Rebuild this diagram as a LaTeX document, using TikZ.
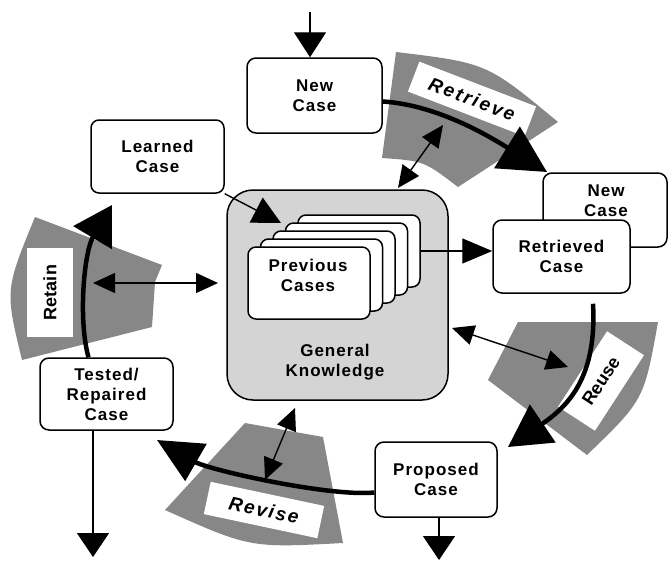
\documentclass[tikz,border=0pt]{standalone}
\usepackage{fontspec}
\setmainfont{Liberation Sans}
\newfontfamily\cbrboxfam[LetterSpace=6]{Liberation Sans}
\newfontfamily\cbrlabA[LetterSpace=12]{Liberation Sans}
\newfontfamily\cbrlabB[LetterSpace=10]{Liberation Sans}
\newfontfamily\cbrlabC{Liberation Sans}
\usetikzlibrary{arrows.meta,calc}
\definecolor{sectgray}{RGB}{135,135,135}
\definecolor{gkgray}{RGB}{212,212,212}
\newcommand\cbrboxfont{\cbrboxfam\bfseries\fontsize{17}{20}\selectfont}
\begin{document}
\begin{tikzpicture}[x=1pt,y=-1pt,
  box/.style={draw, line width=1.5pt, rounded corners=9pt, fill=white, align=center, font=\cbrboxfont, inner sep=0pt},
  boxtext/.style={align=center, font=\cbrboxfont, inner sep=0pt},
  lab/.style={fill=white, inner sep=0pt, align=center},
  thinline/.style={line width=1.4pt},
  cycarrow/.style={line width=4.5pt},
  sect/.style={fill=sectgray},
  bihead/.style={{Triangle[length=22pt,width=20pt]}-{Triangle[length=22pt,width=20pt]}},
]
\useasboundingbox (0,0) rectangle (672,562);

% grey sectors
\fill[sect] (396,52) .. controls (487,63) .. (558,122) -- (458,187) .. controls (424,161) .. (382,158) -- cycle;
\fill[sect] (35,217) -- (162,265) -- (155,282) -- (152,327) -- (22,360) .. controls (5,290) .. (35,217) -- cycle;
\fill[sect] (518,322) -- (658,322) .. controls (644,400) .. (587,455) -- (488,380) -- cycle;
\fill[sect] (245,423) -- (323,437) -- (343,543) .. controls (250,548) .. (165,510) -- cycle;

% white labels
\node[lab, rotate=-21, minimum width=125pt, minimum height=32pt, font=\cbrlabA\bfseries\itshape\fontsize{19}{22}\selectfont] (retrievelab) at (472,99) {Retrieve};
\node[lab, rotate=57, minimum width=90pt, minimum height=44pt, font=\cbrlabC\bfseries\fontsize{18}{21}\selectfont] (reuselab) at (601,381) {Reuse};
\node[lab, rotate=-12, minimum width=116pt, minimum height=33pt, font=\cbrlabB\bfseries\itshape\fontsize{19}{22}\selectfont] (reviselab) at (264,510) {Revise};
\node[lab, rotate=90, minimum width=89pt, minimum height=46pt, font=\cbrlabC\bfseries\fontsize{18}{21}\selectfont] (retainlab) at (50,292.5) {Retain};

% boxes
\node[box, minimum width=135pt, minimum height=75pt] (newcase) at (314.5,95.5) {New\\Case};
\node[box, rounded corners=8pt, minimum width=133pt, minimum height=73pt] (learned) at (157.5,156.5) {Learned\\Case};
\node[box, fill=gkgray, rounded corners=26pt, minimum width=221pt, minimum height=210pt] (gk) at (337.5,295) {};
\node[boxtext] (gktext) at (335,362) {General\\Knowledge};
\node[box, rounded corners=8pt, minimum width=122pt, minimum height=72pt] (p4) at (359,251) {};
\node[box, rounded corners=8pt, minimum width=122pt, minimum height=72pt] (p3) at (346.5,259) {};
\node[box, rounded corners=8pt, minimum width=122pt, minimum height=72pt] (p2) at (334,267) {};
\node[box, rounded corners=8pt, minimum width=122pt, minimum height=72pt] (p1) at (321.5,275) {};
\node[box, rounded corners=8pt, minimum width=122pt, minimum height=72pt] (p0) at (309,283) {};
\node[boxtext] (prevtext) at (308,275) {Previous\\Cases};
\node[box, minimum width=124pt, minimum height=74pt] (newcase2) at (605,210) {};
\node[boxtext] (nc2text) at (606,201) {New\\Case};
\node[box, minimum width=137pt, minimum height=73pt] (retrieved) at (561.5,256.5) {Retrieved\\Case};
\node[box, minimum width=133pt, minimum height=72pt] (tested) at (106.5,394) {Tested/\\Repaired\\Case};
\node[box, minimum width=122pt, minimum height=75pt] (proposed) at (436,479.5) {Proposed\\Case};

% coordinates
\coordinate (topin) at (310,12);
\coordinate (testout) at (93,557);
\coordinate (propout) at (439,560);
\coordinate (lctip) at (281,223);
\coordinate (rtip) at (547,172);
\coordinate (retaintip) at (112,205);
\coordinate (reusetip) at (508,447);
\coordinate (revisetip) at (157,440);
\coordinate (retainL) at (93,283);
\coordinate (retainR) at (218,283);
\coordinate (retrA) at (443,125);
\coordinate (retrB) at (398,188);
\coordinate (reuseA) at (452,328);
\coordinate (reuseB) at (568,367);
\coordinate (revA) at (295,408);
\coordinate (revB) at (265,480);

% cycle arrows
\draw[cycarrow, -{Triangle[length=47pt,width=48pt]}] ($(newcase.east)+(0,6)$) .. controls (440,105) and (495,140) .. (rtip);
\draw[cycarrow, -{Triangle[length=42pt,width=45pt]}] ($(retrieved.south)+(31.5,10)$) .. controls (597,375) and (570,405) .. (reusetip);
\draw[cycarrow, -{Triangle[length=45pt,width=42pt]}] ($(proposed.west)+(0,13)$) .. controls (330,497) and (209,470) .. (revisetip);
\draw[cycarrow, -{Triangle[length=38pt,width=44pt]}] ($(tested.north)+(-18,0)$) .. controls (78,320) and (84,252) .. (retaintip);

% thin arrows
\draw[thinline, -{Triangle[length=25pt,width=32pt]}] (topin) -- (topin |- newcase.north);
\draw[thinline, -{Triangle[length=28pt,width=28pt]}] (learned.south east) -- (lctip);
\draw[thinline, -{Triangle[length=30pt,width=25pt]}] (p4.east) -- (p4.east -| retrieved.west);
\draw[thinline, -{Triangle[length=24pt,width=32pt]}] (testout |- tested.south) -- (testout);
\draw[thinline, -{Triangle[length=24pt,width=32pt]}] (propout |- proposed.south) -- (propout);
\draw[thinline, bihead] (retainL) -- (retainR);
\draw[thinline, bihead] (retrA) -- (retrB);
\draw[thinline, bihead] (reuseA) -- (reuseB);
\draw[thinline, bihead] (revA) -- (revB);
\end{tikzpicture}
\end{document}
